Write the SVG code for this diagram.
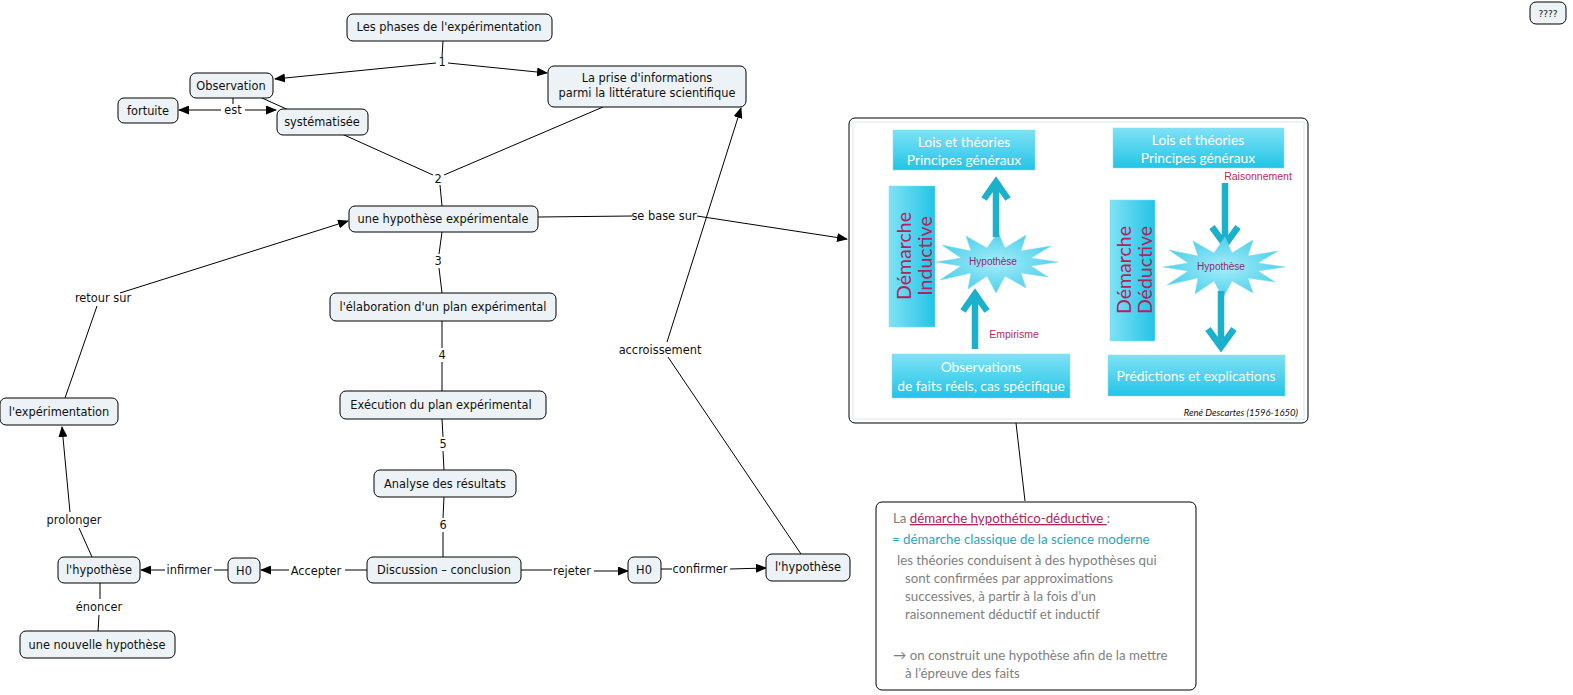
<svg xmlns="http://www.w3.org/2000/svg" width="1573" height="695" viewBox="0 0 1573 695">
<style>
.n rect{fill:#ecf2f5;stroke:#000;stroke-width:1}
.n text,.lb{font-family:"DejaVu Sans",sans-serif;font-size:11.4px;fill:#111;text-anchor:middle}
.c line{stroke:#000;stroke-width:1}
.bx{fill:url(#cy);stroke:#8fdcec;stroke-width:0.5}
.wt{font-family:Lato,"Open Sans",sans-serif;font-size:13.8px;fill:#fff;text-anchor:middle}
.dm{font-family:Lato,"Open Sans",sans-serif;font-size:19.5px;fill:#b0245e;text-anchor:middle}
.hy{font-family:"Liberation Sans",Arial,sans-serif;font-size:10px;fill:#8a2a6e;text-anchor:middle}
.ar{stroke:#1bb1cc;stroke-width:6.5;fill:none;stroke-linecap:butt;stroke-linejoin:miter}
.tb{font-family:Lato,"Open Sans",sans-serif;font-size:13.3px;fill:#7f7f7f}
</style>
<defs>
<marker id="ah" markerWidth="11" markerHeight="9" refX="10" refY="4.5" orient="auto" markerUnits="userSpaceOnUse"><path d="M0,0 L11,4.5 L0,9 z" fill="#000"/></marker>
<linearGradient id="cy" x1="0" y1="0" x2="0" y2="1"><stop offset="0" stop-color="#7fe2f6"/><stop offset="1" stop-color="#22c4e6"/></linearGradient>
<linearGradient id="cyv" x1="0" y1="0" x2="1" y2="0"><stop offset="0" stop-color="#7fe2f6"/><stop offset="1" stop-color="#22c4e6"/></linearGradient>
<radialGradient id="st" cx="0.5" cy="0.5" r="0.6"><stop offset="0" stop-color="#a6ecf9"/><stop offset="1" stop-color="#3ccbe8"/></radialGradient>
<polygon id="burst" points="62,0 35,4 52,15 25,11 30,26 9,14 0,31 -9,14 -28,27 -25,11 -56,18 -35,4 -60,0 -35,-4 -54,-17 -25,-11 -30,-26 -9,-14 2,-30 9,-14 30,-27 25,-11 55,-16 35,-4"/>
</defs>

<g id="connectors" class="c">
<line x1="443" y1="41" x2="442" y2="57"/>
<line x1="436" y1="63" x2="275" y2="79" marker-end="url(#ah)"/>
<line x1="448" y1="63" x2="547" y2="73" marker-end="url(#ah)"/>
<line x1="233" y1="98" x2="233" y2="104"/>
<line x1="221" y1="110" x2="179" y2="110" marker-end="url(#ah)"/>
<line x1="245" y1="110" x2="276" y2="110" marker-end="url(#ah)"/>
<line x1="262" y1="98" x2="433" y2="175"/>
<line x1="603" y1="107" x2="444" y2="175"/>
<line x1="440" y1="185" x2="442" y2="206"/>
<line x1="442" y1="232" x2="439" y2="254"/>
<line x1="439" y1="268" x2="442" y2="293"/>
<line x1="442" y1="321" x2="442" y2="348"/>
<line x1="442" y1="362" x2="442" y2="391"/>
<line x1="442" y1="419" x2="443" y2="437"/>
<line x1="443" y1="451" x2="444" y2="470"/>
<line x1="444" y1="497" x2="443" y2="518"/>
<line x1="443" y1="532" x2="443" y2="557"/>
<line x1="367" y1="570" x2="345" y2="570"/>
<line x1="289" y1="570" x2="261" y2="570" marker-end="url(#ah)"/>
<line x1="228" y1="570" x2="214" y2="570"/>
<line x1="165" y1="570" x2="141" y2="570" marker-end="url(#ah)"/>
<line x1="92" y1="557" x2="79" y2="528"/>
<line x1="70" y1="512" x2="62" y2="427" marker-end="url(#ah)"/>
<line x1="100" y1="583" x2="100" y2="599"/>
<line x1="99" y1="615" x2="98" y2="631"/>
<line x1="65" y1="398" x2="97" y2="306"/>
<line x1="120" y1="293" x2="348" y2="221" marker-end="url(#ah)"/>
<line x1="521" y1="570" x2="552" y2="570"/>
<line x1="594" y1="571" x2="628" y2="571" marker-end="url(#ah)"/>
<line x1="661" y1="569" x2="672" y2="569"/>
<line x1="730" y1="569" x2="766" y2="568" marker-end="url(#ah)"/>
<line x1="801" y1="554" x2="668" y2="357"/>
<line x1="667" y1="342" x2="741" y2="108" marker-end="url(#ah)"/>
<line x1="538" y1="217" x2="632" y2="216"/>
<line x1="697" y1="216" x2="847" y2="239" marker-end="url(#ah)"/>
<line x1="1016" y1="423" x2="1025" y2="501"/>
</g>

<g id="labels">
<text class="lb" x="442" y="66">1</text>
<text class="lb" x="233" y="114">est</text>
<text class="lb" x="438" y="183">2</text>
<text class="lb" x="438" y="265">3</text>
<text class="lb" x="442" y="359">4</text>
<text class="lb" x="443" y="448">5</text>
<text class="lb" x="443" y="529">6</text>
<text class="lb" x="316" y="575">Accepter</text>
<text class="lb" x="189" y="574">infirmer</text>
<text class="lb" x="74" y="524">prolonger</text>
<text class="lb" x="99" y="611">énoncer</text>
<text class="lb" x="103" y="302">retour sur</text>
<text class="lb" x="572" y="575">rejeter</text>
<text class="lb" x="700" y="573">confirmer</text>
<text class="lb" x="660" y="354">accroissement</text>
<text class="lb" x="664" y="220">se base sur</text>
</g>

<g id="n-phases" class="n"><rect x="347" y="14" width="205" height="27" rx="6"/><text x="449" y="31">Les phases de l'expérimentation</text></g>
<g id="n-observation" class="n"><rect x="190" y="73" width="83" height="25" rx="6"/><text x="231" y="90">Observation</text></g>
<g id="n-fortuite" class="n"><rect x="118" y="98" width="60" height="25" rx="6"/><text x="148" y="115">fortuite</text></g>
<g id="n-systematisee" class="n"><rect x="277" y="109" width="91" height="26" rx="6"/><text x="322" y="126">systématisée</text></g>
<g id="n-prise" class="n"><rect x="548" y="66" width="198" height="41" rx="6"/><text x="647" y="82">La prise d'informations</text><text x="647" y="97">parmi la littérature scientifique</text></g>
<g id="n-hypexp" class="n"><rect x="349" y="206" width="189" height="26" rx="6"/><text x="443" y="223">une hypothèse expérimentale</text></g>
<g id="n-elaboration" class="n"><rect x="330" y="293" width="226" height="28" rx="6"/><text x="443" y="311">l'élaboration d'un plan expérimental</text></g>
<g id="n-execution" class="n"><rect x="340" y="391" width="206" height="28" rx="6"/><text x="441" y="409">Exécution du plan expérimental</text></g>
<g id="n-analyse" class="n"><rect x="374" y="470" width="142" height="27" rx="6"/><text x="445" y="488">Analyse des résultats</text></g>
<g id="n-discussion" class="n"><rect x="367" y="557" width="154" height="26" rx="6"/><text x="444" y="574">Discussion – conclusion</text></g>
<g id="n-h0a" class="n"><rect x="228" y="558" width="32" height="25" rx="6"/><text x="244" y="575">H0</text></g>
<g id="n-hyp-left" class="n"><rect x="58" y="557" width="82" height="26" rx="6"/><text x="99" y="574">l'hypothèse</text></g>
<g id="n-nouvelle" class="n"><rect x="20" y="631" width="155" height="27" rx="6"/><text x="97" y="649">une nouvelle hypothèse</text></g>
<g id="n-experimentation" class="n"><rect x="0" y="398" width="118" height="27" rx="6"/><text x="59" y="416">l'expérimentation</text></g>
<g id="n-h0b" class="n"><rect x="628" y="557" width="33" height="26" rx="6"/><text x="644" y="574">H0</text></g>
<g id="n-hyp-right" class="n"><rect x="766" y="554" width="84" height="27" rx="6"/><text x="808" y="571">l'hypothèse</text></g>
<g id="n-q" class="n"><rect x="1530" y="2" width="36" height="22" rx="6"/><text x="1548" y="17" style="font-size:9px">????</text></g>

<g id="n-image">
<rect x="849" y="118" width="459" height="305" rx="6" fill="#fff" stroke="#000" stroke-width="1"/>
<rect x="853" y="122" width="451" height="297" fill="none" stroke="#eef2f4" stroke-width="2"/>
<rect class="bx" x="893" y="130" width="142" height="40"/>
<text class="wt" x="964" y="147">Lois et théories</text>
<text class="wt" x="964" y="165">Principes généraux</text>
<rect x="889" y="186" width="46" height="141" fill="url(#cyv)" stroke="#8fdcec" stroke-width="0.5"/>
<text class="dm" transform="translate(911,256) rotate(-90)">Démarche</text>
<text class="dm" transform="translate(932,256) rotate(-90)">Inductive</text>
<use href="#burst" transform="translate(996,262)" fill="url(#st)" stroke="#7fd9ec" stroke-width="0.5"/>
<text class="hy" x="993" y="265">Hypothèse</text>
<path class="ar" d="M996,237 V182 M984,199 L996,182 L1008,199"/>
<path class="ar" d="M975,349 V294 M963,311 L975,294 L987,311"/>
<text class="hy" x="1014" y="338" style="fill:#c0285a;font-size:10.5px">Empirisme</text>
<rect class="bx" x="892" y="354" width="178" height="44"/>
<text class="wt" x="981" y="372">Observations</text>
<text class="wt" x="981" y="391">de faits réels, cas spécifique</text>

<rect class="bx" x="1113" y="128" width="171" height="40"/>
<text class="wt" x="1198" y="145">Lois et théories</text>
<text class="wt" x="1198" y="163">Principes généraux</text>
<text class="hy" x="1258" y="180" style="fill:#c0285a;font-size:10.5px">Raisonnement</text>
<rect x="1110" y="200" width="45" height="141" fill="url(#cyv)" stroke="#8fdcec" stroke-width="0.5"/>
<text class="dm" transform="translate(1131,270) rotate(-90)">Démarche</text>
<text class="dm" transform="translate(1152,270) rotate(-90)">Déductive</text>
<path class="ar" d="M1225,183 V243 M1212,227 L1225,245 L1238,227"/>
<use href="#burst" transform="translate(1223,267)" fill="url(#st)" stroke="#7fd9ec" stroke-width="0.5"/>
<text class="hy" x="1221" y="270">Hypothèse</text>
<path class="ar" d="M1221,291 V344 M1208,329 L1221,347 L1234,329"/>
<rect class="bx" x="1108" y="355" width="177" height="41"/>
<text class="wt" x="1196" y="381">Prédictions et explications</text>
<text x="1298" y="416" text-anchor="end" style="font-family:Lato,'Open Sans',sans-serif;font-size:9.5px;font-style:italic;fill:#111">René Descartes (1596-1650)</text>
</g>

<g id="n-text">
<rect x="876" y="502" width="320" height="188" rx="6" fill="#fff" stroke="#000" stroke-width="1"/>
<text class="tb" x="893" y="523">La <tspan fill="#b0245e" text-decoration="underline">démarche hypothético-déductive </tspan>:</text>
<text class="tb" x="892" y="544" style="fill:#2aa6c2">= démarche classique de la science moderne</text>
<text class="tb" x="897" y="565">les théories conduisent à des hypothèses qui</text>
<text class="tb" x="905" y="583">sont confirmées par approximations</text>
<text class="tb" x="905" y="601">successives, à partir à la fois d’un</text>
<text class="tb" x="905" y="619">raisonnement déductif et inductif</text>
<text class="tb" x="893" y="660">→ on construit une hypothèse afin de la mettre</text>
<text class="tb" x="905" y="678">à l’épreuve des faits</text>
</g>
</svg>
